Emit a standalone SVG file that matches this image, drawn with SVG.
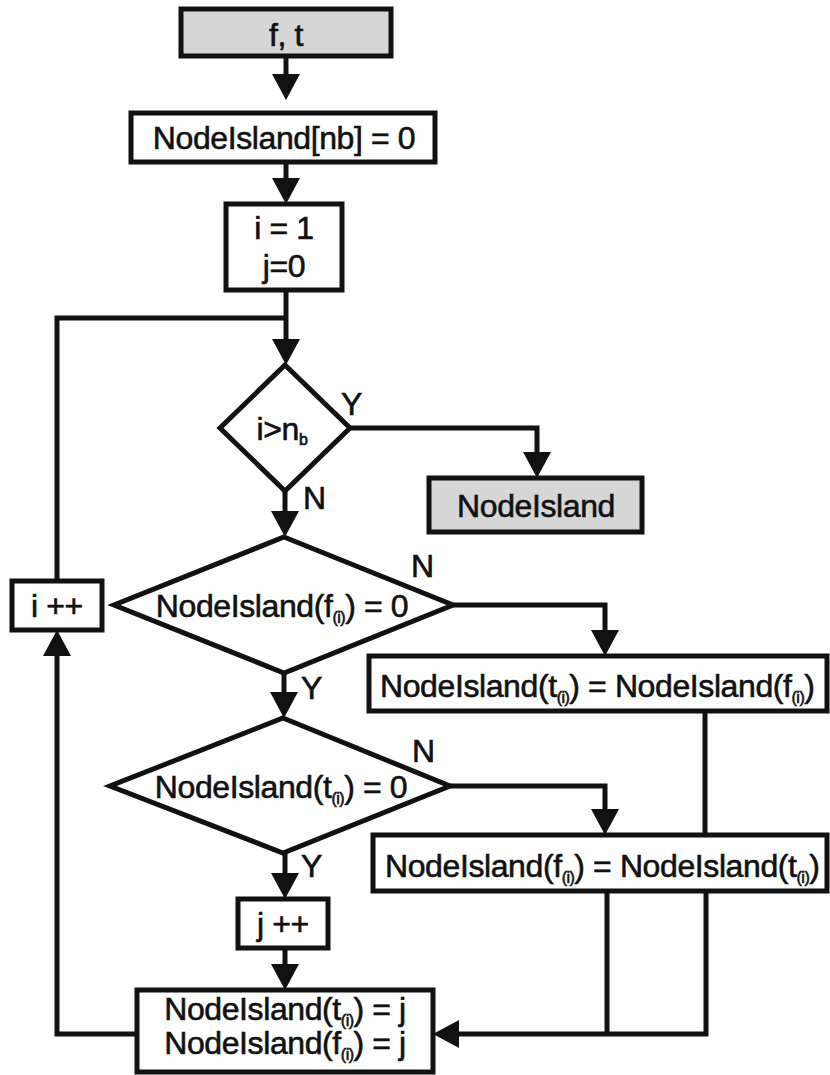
<svg xmlns="http://www.w3.org/2000/svg" width="830" height="1075" viewBox="0 0 830 1075">
<defs>
<style>
.box{fill:#fff;stroke:#111;stroke-width:5}
.term{fill:#d6d6d6;stroke:#111;stroke-width:5}
.t{font-family:"Liberation Sans",Arial,sans-serif;font-size:32px;letter-spacing:-0.4px;fill:#111;stroke:#111;stroke-width:0.6px}
.m{text-anchor:middle}
.s{font-size:16px;letter-spacing:-0.5px}
.c{fill:none;stroke:#111;stroke-width:5}
.a{marker-end:url(#ah)}
</style>
<marker id="ah" markerUnits="userSpaceOnUse" viewBox="0 0 26 28" refX="18" refY="14" markerWidth="26" markerHeight="28" orient="auto">
<path d="M0,0 L26,14 L0,28 z" fill="#111"/>
</marker>
</defs>
<rect width="830" height="1075" fill="#fff"/>
<g id="connectors">
<path class="c a" d="M286,56 V92"/>
<path class="c a" d="M286,162 V196"/>
<path class="c a" d="M286,290 V357"/>
<path class="c" d="M57,581 V318 H286"/>
<path class="c a" d="M350,428 H537 V470"/>
<path class="c a" d="M285,491 V529"/>
<path class="c a" d="M453,605 H605 V648"/>
<path class="c a" d="M284,673 V710"/>
<path class="c a" d="M450,786 H605 V827"/>
<path class="c" d="M705,711 V835"/>
<path class="c a" d="M285,853 V891"/>
<path class="c a" d="M285,948 V982"/>
<path class="c" d="M607,891 V1034"/>
<path class="c a" d="M706,891 V1034 H441"/>
<path class="c a" d="M137,1034 H57 V638"/>
<text class="t" x="341" y="415">Y</text>
<text class="t" x="303" y="509">N</text>
<text class="t" x="411" y="577">N</text>
<text class="t" x="301" y="699">Y</text>
<text class="t" x="412" y="762">N</text>
<text class="t" x="301" y="877">Y</text>
</g>
<g id="start">
<rect class="term" x="181" y="9" width="210" height="47"/>
<text class="t m" x="286" y="46">f, t</text>
</g>
<g id="init">
<rect class="box" x="131" y="113" width="304" height="49"/>
<text class="t m" x="284" y="149">NodeIsland[nb] = 0</text>
</g>
<g id="ij">
<rect class="box" x="226" y="204" width="116" height="86"/>
<text class="t m" x="284" y="239">i = 1</text>
<text class="t m" x="284" y="277">j=0</text>
</g>
<g id="cond1">
<polygon class="box" points="285,365 350,428 285,491 220,428"/>
<text class="t m" x="282" y="440">i&gt;n<tspan class="s" dy="5">b</tspan></text>
</g>
<g id="end">
<rect class="term" x="429" y="478" width="213" height="54"/>
<text class="t m" x="536" y="517">NodeIsland</text>
</g>
<g id="cond2">
<polygon class="box" points="284,537 453,605 284,673 114,605"/>
<text class="t m" x="282" y="617">NodeIsland(f<tspan class="s" dy="6">(i)</tspan><tspan dy="-6">) = 0</tspan></text>
</g>
<g id="iinc">
<rect class="box" x="12" y="581" width="90" height="49"/>
<text class="t m" x="57" y="617">i ++</text>
</g>
<g id="assign1">
<rect class="box" x="369" y="656" width="458" height="55"/>
<text class="t" x="380" y="697">NodeIsland(t<tspan class="s" dy="6">(i)</tspan><tspan dy="-6">) = NodeIsland(f</tspan><tspan class="s" dy="6">(i)</tspan><tspan dy="-6">)</tspan></text>
</g>
<g id="cond3">
<polygon class="box" points="283,718 450,786 283,853 110,786"/>
<text class="t m" x="281" y="798">NodeIsland(t<tspan class="s" dy="6">(i)</tspan><tspan dy="-6">) = 0</tspan></text>
</g>
<g id="assign2">
<rect class="box" x="373" y="835" width="454" height="56"/>
<text class="t" x="385" y="877">NodeIsland(f<tspan class="s" dy="6">(i)</tspan><tspan dy="-6">) = NodeIsland(t</tspan><tspan class="s" dy="6">(i)</tspan><tspan dy="-6">)</tspan></text>
</g>
<g id="jinc">
<rect class="box" x="238" y="899" width="90" height="49"/>
<text class="t m" x="283" y="935">j ++</text>
</g>
<g id="assignj">
<rect class="box" x="137" y="990" width="296" height="82"/>
<text class="t m" x="285" y="1020">NodeIsland(t<tspan class="s" dy="6">(i)</tspan><tspan dy="-6">) = j</tspan></text>
<text class="t m" x="285" y="1054">NodeIsland(f<tspan class="s" dy="6">(i)</tspan><tspan dy="-6">) = j</tspan></text>
</g>
</svg>
